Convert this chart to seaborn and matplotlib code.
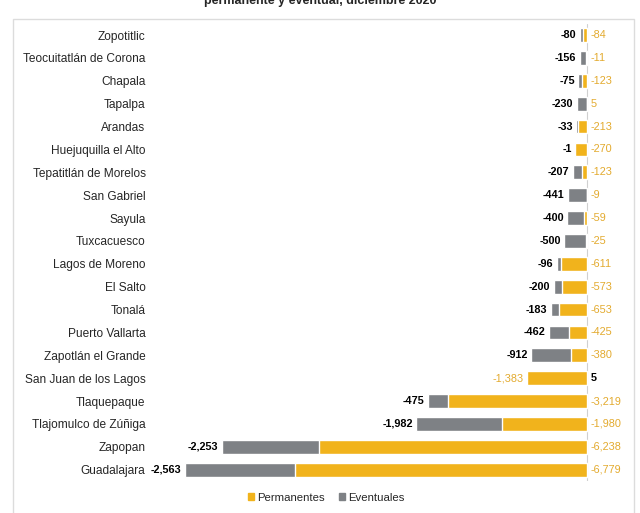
import numpy as np
import pandas as pd
import matplotlib
matplotlib.use("Agg")
import matplotlib.pyplot as plt
import seaborn as sns
from matplotlib.patches import Rectangle

municipios = ['Zopotitlic', 'Teocuitatlán de Corona', 'Chapala', 'Tapalpa', 'Arandas',
              'Huejuquilla el Alto', 'Tepatitlán de Morelos', 'San Gabriel', 'Sayula',
              'Tuxcacuesco', 'Lagos de Moreno', 'El Salto', 'Tonalá', 'Puerto Vallarta',
              'Zapotlán el Grande', 'San Juan de los Lagos', 'Tlaquepaque',
              'Tlajomulco de Zúñiga', 'Zapopan', 'Guadalajara']
permanentes = [-84, -11, -123, 5, -213, -270, -123, -9, -59, -25, -611, -573, -653,
               -425, -380, -1383, -3219, -1980, -6238, -6779]
eventuales = [-80, -156, -75, -230, -33, -1, -207, -441, -400, -500, -96, -200, -183,
              -462, -912, 5, -475, -1982, -2253, -2563]

amarillo = '#F1B31C'
gris = '#7E8185'
amarillo_txt = '#E3AA2E'

df = pd.DataFrame({'municipio': municipios, 'perm': permanentes, 'event': eventuales})
# gray bar is stacked after the yellow one when both share a sign
same = np.sign(df['perm']) == np.sign(df['event'])
df['fin'] = np.where(same, df['perm'] + df['event'], df['event'])

sns.set_style('white')
plt.rcParams['font.family'] = ['Liberation Sans', 'DejaVu Sans']

fig = plt.figure(figsize=(6.4, 5.13), dpi=100)
ax = fig.add_axes([0.234, 0.062, 0.747, 0.892])

sns.barplot(data=df, x='fin', y='municipio', orient='h', color=gris,
            width=0.6, saturation=1, ax=ax)
sns.barplot(data=df, x='perm', y='municipio', orient='h', color=amarillo,
            width=0.6, saturation=1, ax=ax)

ax.set_xlim(-10160, 950)
ax.axvline(0, color='#d0d0d0', lw=0.8, zorder=0)
ax.set_xlabel('')
ax.set_ylabel('')
ax.set_xticks([])
ax.tick_params(axis='y', length=0, pad=3, labelsize=8.6)
for s in ax.spines.values():
    s.set_visible(False)

for i, r in df.iterrows():
    if r['event'] >= 0:
        ax.text(r['perm'] - 90, i, f"{r['perm']:,}", ha='right', va='center',
                fontsize=7.8, color=amarillo_txt)
        ax.text(90 + max(r['event'], 0), i, f"{r['event']:,}", ha='left', va='center',
                fontsize=7.8, color='black', fontweight='bold')
    else:
        izq = min(r['fin'], r['perm'], 0)
        ax.text(izq - 80, i, f"{r['event']:,}", ha='right', va='center',
                fontsize=7.8, color='black', fontweight='bold')
        ax.text(90 + max(r['perm'], 0), i, f"{r['perm']:,}", ha='left', va='center',
                fontsize=7.8, color=amarillo_txt)

handles = [Rectangle((0, 0), 1, 1, color=amarillo), Rectangle((0, 0), 1, 1, color=gris)]
fig.legend(handles, ['Permanentes', 'Eventuales'], loc='center', bbox_to_anchor=(0.51, 0.03),
           ncol=2, frameon=False, fontsize=8.2, handlelength=0.5, handleheight=0.5,
           handletextpad=0.3, columnspacing=1.2)

fig.text(0.5, 0.998, 'permanente y eventual, diciembre 2020', ha='center', va='center',
         fontsize=9, fontweight='bold')
fig.patches.append(Rectangle((0.021, -0.01), 0.97, 0.972, transform=fig.transFigure,
                             fill=False, edgecolor='#dcdcdc', lw=1))

fig.savefig('out.png', dpi=100)
